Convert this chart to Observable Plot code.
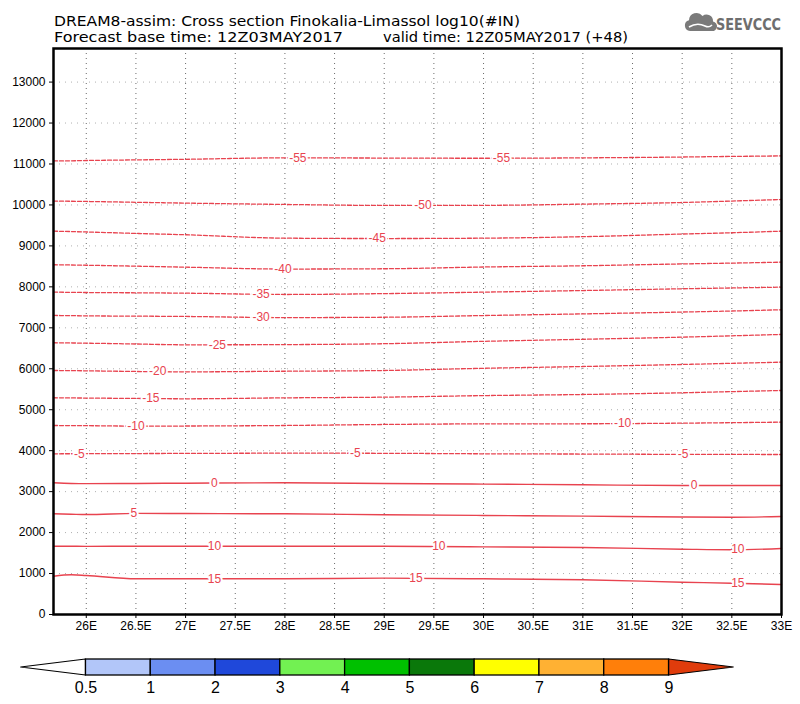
<!DOCTYPE html>
<html><head><meta charset="utf-8">
<script src="https://cdn.jsdelivr.net/npm/d3@7"></script>
<script src="https://cdn.jsdelivr.net/npm/@observablehq/plot@0.6"></script>
<style>
body{margin:0;background:#fff;}
#wrap{position:relative;width:800px;height:704px;overflow:hidden;background:#fff;}
#chart{position:absolute;left:0;top:0;}
#head{position:absolute;left:0;top:0;}
#bar{position:absolute;left:0;top:650px;}
</style></head><body>
<div id="wrap">
  <div id="chart"></div>
  <svg id="head" width="800" height="46" xmlns="http://www.w3.org/2000/svg">
    <g font-family="DejaVu Sans, sans-serif" font-size="14" fill="#000">
      <text x="54" y="25.5" textLength="466" lengthAdjust="spacingAndGlyphs">DREAM8-assim: Cross section Finokalia-Limassol log10(#IN)</text>
      <text x="54" y="42" textLength="289" lengthAdjust="spacingAndGlyphs">Forecast base time: 12Z03MAY2017</text>
      <text x="383" y="42" textLength="245" lengthAdjust="spacingAndGlyphs">valid time: 12Z05MAY2017 (+48)</text>
    </g>
    <g>
      <path d="M690 31 a5.5 5.5 0 0 1 -1 -10.8 a7.5 7.5 0 0 1 13.5 -4.2 a6.5 6.5 0 0 1 10.5 5.5 a4.8 4.8 0 0 1 -1.5 9.5 z" fill="#7a7a7a"/>
      <path d="M689 27 q8 -5 16 -1 q4 2 7 -1" stroke="#fff" stroke-width="1.6" fill="none"/>
      <text x="716" y="30" font-family="DejaVu Sans Condensed, DejaVu Sans, sans-serif" font-weight="bold" font-size="15" fill="#6e6e6e" textLength="65" lengthAdjust="spacingAndGlyphs">SEEVCCC</text>
    </g>
  </svg>
  <div id="bar"></div>
</div>
<script>
// ---- data ----
const lons = [25.67, 25.85, 26, 26.5, 27, 28, 29, 30, 31, 32, 32.5, 33];
const levels = [-55, -50, -45, -40, -35, -30, -25, -20, -15, -10, -5, 0, 5, 10, 15];
const hM55 = [11074, 11078, 11085, 11100, 11115, 11150, 11145, 11140, 11150, 11170, 11185, 11197];
const hM50 = [10093, 10090, 10085, 10065, 10045, 10012, 9988, 9990, 10020, 10060, 10095, 10134];
const hM45 = [9360, 9350, 9340, 9305, 9272, 9189, 9180, 9189, 9225, 9290, 9321, 9360];
const hM40 = [8540, 8534, 8528, 8505, 8481, 8435, 8442, 8485, 8515, 8560, 8580, 8603];
const hM35 = [7871, 7866, 7862, 7855, 7846, 7814, 7835, 7871, 7910, 7953, 7973, 7993];
const hM30 = [7302, 7297, 7292, 7285, 7277, 7250, 7258, 7300, 7340, 7385, 7410, 7441];
const hM25 = [6635, 6630, 6625, 6605, 6585, 6590, 6612, 6670, 6720, 6772, 6805, 6838];
const hM20 = [5958, 5954, 5950, 5934, 5925, 5940, 5958, 6012, 6055, 6105, 6133, 6161];
const hM15 = [5292, 5288, 5285, 5275, 5267, 5290, 5307, 5345, 5372, 5414, 5442, 5470];
const hM10 = [4615, 4612, 4610, 4600, 4602, 4615, 4640, 4655, 4657, 4672, 4684, 4696];
const hM05 = [3924, 3925, 3926, 3930, 3933, 3939, 3936, 3924, 3918, 3910, 3908, 3907];
const hP00 = [3216, 3200, 3195, 3200, 3206, 3216, 3200, 3183, 3167, 3150, 3150, 3150];
const hP05 = [2459, 2448, 2440, 2470, 2466, 2459, 2437, 2418, 2401, 2380, 2376, 2393];
const hP10 = [1668, 1666, 1663, 1668, 1668, 1668, 1665, 1652, 1636, 1595, 1580, 1612];
const hP15 = [935, 969, 952, 872, 872, 872, 887, 872, 847, 789, 764, 733];
const heights = [hM55, hM50, hM45, hM40, hM35, hM30, hM25, hM20, hM15, hM10, hM05, hP00, hP05, hP10, hP15];

const labelLevels = [-55, -55, -50, -45, -40, -35, -30, -25, -20, -15, -10, -10, -5, -5, -5, 0, 0, 5, 10, 10, 10, 15, 15, 15];
const labelLons = [28.13, 30.18, 29.39, 28.93, 27.98, 27.76, 27.76, 27.32, 26.72, 26.65, 26.5, 31.4, 25.93, 28.71, 32.01, 27.29, 32.12, 26.48, 27.29, 29.55, 32.56, 27.29, 29.32, 32.56];

const xTicks = [26, 26.5, 27, 27.5, 28, 28.5, 29, 29.5, 30, 30.5, 31, 31.5, 32, 32.5, 33];
const yTicks = [0, 1000, 2000, 3000, 4000, 5000, 6000, 7000, 8000, 9000, 10000, 11000, 12000, 13000];

const cbLabels = ["0.5", "1", "2", "3", "4", "5", "6", "7", "8", "9"];
const cbColors = ["#b2c6f9", "#6b8ef2", "#1f48da", "#72f152", "#00c000", "#0a780a", "#ffff00", "#ffb133", "#ff7f0a"];
const cbLowColor = "#ffffff";
const cbHighColor = "#e03c0c";

// ---- build tables ----
const red = "#e8434f";
const rows = [];
levels.forEach((lv, i) => heights[i].forEach((h, j) => rows.push({lon: lons[j], h, level: lv})));
const negRows = rows.filter(d => d.level < 0);
const posRows = rows.filter(d => d.level >= 0);

function heightAt(level, lon) {
  const hs = heights[levels.indexOf(level)];
  let j = d3.bisectRight(lons, lon) - 1;
  j = Math.max(0, Math.min(lons.length - 2, j));
  const t = (lon - lons[j]) / (lons[j + 1] - lons[j]);
  return hs[j] + t * (hs[j + 1] - hs[j]);
}
const labels = labelLevels.map((lv, i) => ({lon: labelLons[i], h: heightAt(lv, labelLons[i]), text: String(lv)}));

const chart = Plot.plot({
  width: 800, height: 640,
  marginLeft: 53, marginRight: 19, marginTop: 48, marginBottom: 26,
  style: {fontFamily: "Liberation Sans, Arial, sans-serif", fontSize: "12px", color: "black", background: "white"},
  x: {domain: [25.67, 33], label: null},
  y: {domain: [0, 13820], label: null},
  marks: [
    Plot.gridX(xTicks, {stroke: "#6a6a6a", strokeOpacity: 1, strokeDasharray: "1,4"}),
    Plot.gridY(yTicks, {stroke: "#b0b0b0", strokeOpacity: 1, strokeDasharray: "1,5"}),
    Plot.line(negRows, {x: "lon", y: "h", z: "level", stroke: red, strokeWidth: 1.3, strokeDasharray: "4,2", curve: "monotone-x"}),
    Plot.line(posRows, {x: "lon", y: "h", z: "level", stroke: red, strokeWidth: 1.4, curve: "monotone-x"}),
    Plot.text(labels, {x: "lon", y: "h", text: "text", fill: red, stroke: "white", strokeWidth: 4, fontSize: 12}),
    Plot.frame({stroke: "black", strokeWidth: 2.5}),
    Plot.axisX(xTicks, {tickFormat: d => d + "E", tickSize: 4, tickPadding: 3, label: null, fontSize: 12}),
    Plot.axisY(yTicks, {tickFormat: d => String(d), tickSize: 4, tickPadding: 4, label: null, fontSize: 12})
  ]
});
document.getElementById("chart").appendChild(chart);

// ---- colour bar ----
const boxes = cbColors.map((c, i) => ({x1: i + 1, x2: i + 2, c}));
const lowTri = [{x: 0, y1: 0.5, y2: 0.5}, {x: 1, y1: 0, y2: 1}];
const highTri = [{x: cbColors.length + 1, y1: 0, y2: 1}, {x: cbColors.length + 2, y1: 0.5, y2: 0.5}];
const bar = Plot.plot({
  width: 800, height: 54,
  marginLeft: 20.7, marginRight: 66.7, marginTop: 9, marginBottom: 29,
  style: {fontFamily: "Liberation Sans, Arial, sans-serif", color: "black", background: "transparent"},
  x: {domain: [0, cbColors.length + 2], axis: null},
  y: {domain: [0, 1], axis: null},
  color: {type: "identity"},
  marks: [
    Plot.area(lowTri, {x1: "x", y1: "y1", y2: "y2", fill: cbLowColor, stroke: "black", strokeWidth: 1.2}),
    Plot.area(highTri, {x1: "x", y1: "y1", y2: "y2", fill: cbHighColor, stroke: "black", strokeWidth: 1.2}),
    Plot.rect(boxes, {x1: "x1", x2: "x2", y1: 0, y2: 1, fill: "c", stroke: "black", strokeWidth: 1.3}),
    Plot.text(cbLabels, {x: (d, i) => i + 1, y: 0, text: d => d, lineAnchor: "top", dy: 6, fontSize: 16})
  ]
});
document.getElementById("bar").appendChild(bar);
</script>
</body></html>
